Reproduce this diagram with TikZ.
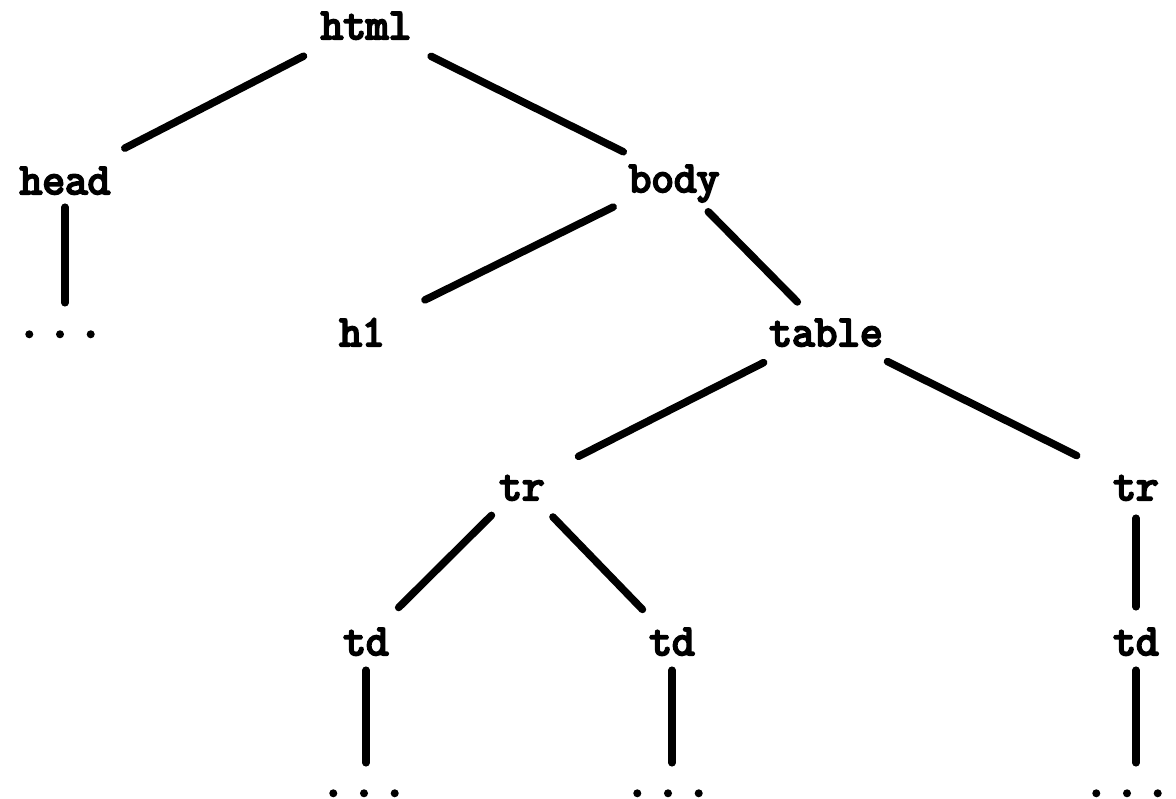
\documentclass[tikz,border=0pt]{standalone}
\usepackage{fontspec}
\newfontfamily\treefont{Latin Modern Mono}[FakeBold=5]
\begin{document}
\begin{tikzpicture}[x=1pt,y=-1pt,
  lbl/.style={font=\treefont\fontsize{44}{44}\selectfont, inner sep=6pt, anchor=base, text height=30pt, text depth=0pt},
  dots/.style={font=\treefont\fontsize{48}{48}\selectfont, inner xsep=4pt, inner ysep=0pt, anchor=base, text height=8pt, text depth=0pt},
  edge/.style={line width=7.5pt, line cap=round}]
\useasboundingbox (0,0) rectangle (1176,799);
\newcommand{\dd}{.\hspace{6pt}.\hspace{6pt}.}
\node[lbl] (html) at (366,39) {html};
\node[lbl] (head) at (65,194) {head};
\node[lbl] (body) at (674,192) {body};
\node[dots] (hdots) at (60,337) {\dd};
\node[lbl] (h1) at (362,346) {h1};
\node[lbl] (table) at (826,346) {table};
\node[lbl] (trL) at (522,500) {tr};
\node[lbl] (trR) at (1136,500) {tr};
\node[lbl] (tdA) at (366,655) {td};
\node[lbl] (tdB) at (672,655) {td};
\node[lbl] (tdC) at (1136,655) {td};
\node[dots] (dA) at (364,796) {\dd};
\node[dots] (dB) at (668,796) {\dd};
\node[dots] (dC) at (1127,796) {\dd};
\draw[edge, shorten <=24pt, shorten >=21pt] (html) -- (head);
\draw[edge, shorten <=25pt, shorten >=9pt] (html) -- (body);
\draw[edge, shorten <=7pt, shorten >=26pt] (head.south) -- (head.south |- hdots.north);
\draw[edge, shorten <=20pt, shorten >=38pt] (body) -- (h1);
\draw[edge, shorten <=19pt, shorten >=11pt] (body) -- (table);
\draw[edge, shorten <=23pt, shorten >=31pt] (table) -- (trL);
\draw[edge, shorten <=21pt, shorten >=34pt] (table) -- (trR);
\draw[edge, shorten <=13pt, shorten >=16pt] (trL) -- (tdA);
\draw[edge, shorten <=15pt, shorten >=13pt] (trL) -- (tdB);
\draw[edge, shorten <=12pt, shorten >=12pt] (tdC.north |- trR.south) -- (tdC.north);
\draw[edge, shorten <=9pt, shorten >=25pt] (tdA.south) -- (tdA.south |- dA.north);
\draw[edge, shorten <=9pt, shorten >=25pt] (tdB.south) -- (tdB.south |- dB.north);
\draw[edge, shorten <=9pt, shorten >=25pt] (tdC.south) -- (tdC.south |- dC.north);
\end{tikzpicture}
\end{document}
